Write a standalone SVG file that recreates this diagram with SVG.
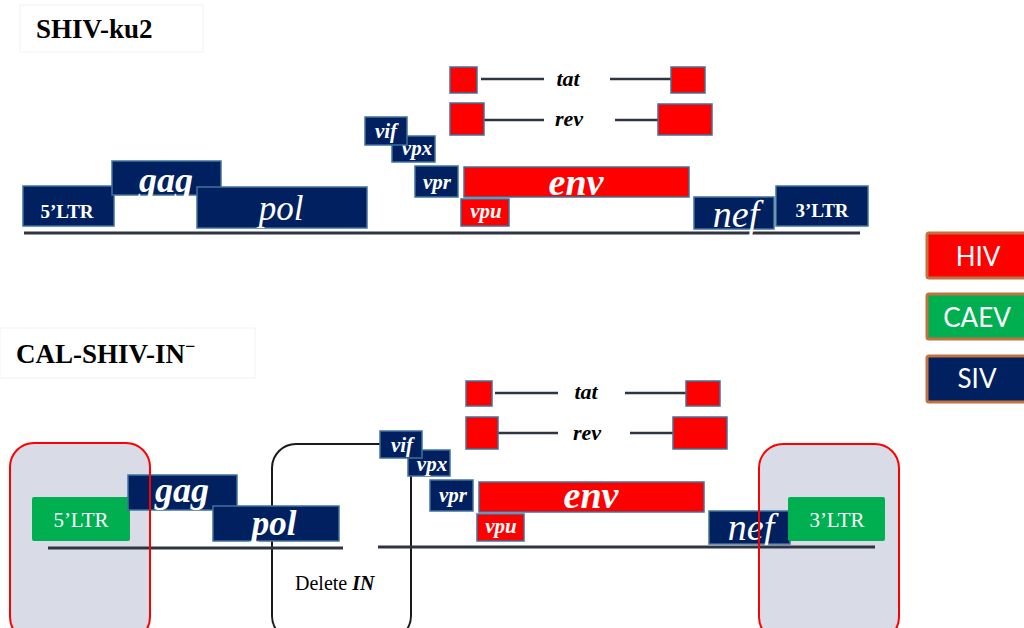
<svg xmlns="http://www.w3.org/2000/svg" width="1024" height="628" viewBox="0 0 1024 628">
<defs>
<style>
.siv{fill:#002060;stroke:#41719C;stroke-width:1.5}
.hiv{fill:#FF0000;stroke:#41719C;stroke-width:1.5}
.caev{fill:#00B050;stroke:none}
.ln{stroke:#2E3440;stroke-width:3;fill:none}
.thin{stroke:#2E3440;stroke-width:2.5;fill:none}
.lbl{fill:#FFFFFF;font-family:"Liberation Serif",serif;text-anchor:middle}
.sm{font-size:21px}
.bi{font-style:italic;font-weight:bold}
.it{font-style:italic}
.b{font-weight:bold}
.blk{fill:#000000;font-family:"Liberation Serif",serif}
.tr{font-size:22px;text-anchor:middle}
.title{fill:#000000;font-family:"Liberation Serif",serif;font-weight:bold;font-size:27px}
.tbox{fill:#FFFFFF;stroke:#F2F2F2;stroke-width:1}
.leg{stroke:#C0733E;stroke-width:3}
.legt{fill:#FFFFFF;font-family:Lato,"Open Sans",sans-serif;font-size:26px;text-anchor:middle}
.grey{fill:#D9DCE6;stroke:none}
.redb{fill:none;stroke:#FF0000;stroke-width:2}
</style>
</defs>
<rect width="1024" height="628" fill="#FFFFFF"/>

<!-- Top construct -->
<g id="title-top"><rect class="tbox" x="20" y="5" width="183" height="47"/><text class="title" x="36" y="38">SHIV-ku2</text></g>

<g id="connectors">
<line class="ln" x1="24" y1="233" x2="860" y2="233"/>
<line class="thin" x1="481" y1="79" x2="544" y2="79"/>
<line class="thin" x1="610" y1="79" x2="672" y2="79"/>
<line class="thin" x1="484" y1="120" x2="544" y2="120"/>
<line class="thin" x1="615" y1="120" x2="658" y2="120"/>
<line class="thin" x1="495" y1="393" x2="558" y2="393"/>
<line class="thin" x1="625" y1="393" x2="687" y2="393"/>
<line class="thin" x1="498" y1="433" x2="558" y2="433"/>
<line class="thin" x1="630" y1="433" x2="673" y2="433"/>
</g>

<g id="ltr5-top"><rect class="siv" x="23" y="186" width="91" height="40"/><text class="lbl b" x="67" y="218" font-size="19">5’LTR</text></g>
<g id="gag-top"><rect class="siv" x="112" y="161" width="109" height="34"/><text class="lbl bi" x="166" y="192" font-size="36">gag</text></g>
<g id="pol-top"><rect class="siv" x="197" y="187" width="170" height="41"/><text class="lbl it" x="281" y="220" font-size="35">pol</text></g>
<g id="vpx-top"><rect class="siv" x="392" y="136" width="43" height="26"/><text class="lbl bi sm" x="417" y="155">vpx</text></g>
<g id="vif-top"><rect class="siv" x="365" y="117" width="42" height="28"/><text class="lbl bi sm" x="386" y="138">vif</text></g>
<g id="vpr-top"><rect class="siv" x="415" y="166" width="43" height="31"/><text class="lbl bi sm" x="437" y="189">vpr</text></g>
<g id="env-top"><rect class="hiv" x="464" y="167" width="225" height="30"/><text class="lbl bi" x="576" y="195" font-size="38">env</text></g>
<g id="vpu-top"><rect class="hiv" x="461" y="199" width="48" height="27"/><text class="lbl bi sm" x="486" y="218">vpu</text></g>
<g id="nef-top"><rect class="siv" x="694" y="197" width="80" height="32"/><text class="lbl it" x="736" y="227" font-size="38">nef</text></g>
<g id="ltr3-top"><rect class="siv" x="776" y="186" width="92" height="40"/><text class="lbl b" x="822" y="217" font-size="19">3’LTR</text></g>
<g id="tat-top">
<rect class="hiv" x="450" y="67" width="27" height="26"/>
<rect fill="#FFFFFF" x="544" y="58" width="65" height="39"/>
<text class="blk bi tr" x="568" y="86">tat</text>
<rect class="hiv" x="671" y="67" width="34" height="26"/>
</g>
<g id="rev-top">
<rect class="hiv" x="450" y="103" width="34" height="32"/>
<rect fill="#FFFFFF" x="544" y="100" width="70" height="39"/>
<text class="blk bi tr" x="569" y="126">rev</text>
<rect class="hiv" x="658" y="104" width="54" height="31"/>
</g>

<!-- Legend -->
<g id="legend-hiv"><rect class="leg" x="927" y="233" width="104" height="45" rx="2" fill="#FF0000"/><text class="legt" x="978" y="266">HIV</text></g>
<g id="legend-caev"><rect class="leg" x="927" y="294" width="104" height="45" rx="2" fill="#00B050"/><text class="legt" x="977" y="327">CAEV</text></g>
<g id="legend-siv"><rect class="leg" x="927" y="356" width="104" height="46" rx="2" fill="#002060"/><text class="legt" x="977" y="388">SIV</text></g>

<!-- Bottom construct -->
<g id="title-bottom"><rect class="tbox" x="0" y="328" width="255" height="50"/><text class="title" x="16" y="363">CAL-SHIV-IN<tspan font-size="18" dy="-11">−</tspan></text></g>

<g id="region-5ltr"><rect class="grey" x="10" y="443" width="140" height="198" rx="24"/></g>
<g id="region-3ltr"><rect class="grey" x="759" y="444" width="140" height="197" rx="24"/></g>
<g id="delete-in">
<rect x="272" y="444" width="139" height="196" rx="24" fill="#FFFFFF" stroke="#1A1A1A" stroke-width="2"/>
<text class="blk" x="295" y="590" font-size="20">Delete <tspan class="bi">IN</tspan></text>
</g>

<g id="ltr5-bot"><rect class="caev" x="32" y="497" width="98" height="44" rx="2"/><text class="lbl" x="81" y="527" font-size="21">5’LTR</text></g>
<g id="gag-bot"><rect class="siv" x="128" y="475" width="109" height="35"/><text class="lbl bi" x="182" y="502" font-size="36">gag</text></g>
<g id="pol-bot"><rect class="siv" x="213" y="506" width="126" height="35"/><text class="lbl bi" x="274" y="535" font-size="35">pol</text></g>
<g id="vpx-bot"><rect class="siv" x="408" y="450" width="42" height="26"/><text class="lbl bi sm" x="432" y="471">vpx</text></g>
<g id="vif-bot"><rect class="siv" x="380" y="431" width="42" height="27"/><text class="lbl bi sm" x="402" y="452">vif</text></g>
<g id="vpr-bot"><rect class="siv" x="430" y="480" width="43" height="31"/><text class="lbl bi sm" x="453" y="502">vpr</text></g>
<g id="env-bot"><rect class="hiv" x="479" y="482" width="225" height="30"/><text class="lbl bi" x="591" y="508" font-size="38">env</text></g>
<g id="vpu-bot"><rect class="hiv" x="477" y="514" width="47" height="27"/><text class="lbl bi sm" x="501" y="533">vpu</text></g>
<g id="nef-bot"><rect class="siv" x="709" y="511" width="81" height="33"/><text class="lbl it" x="751" y="540" font-size="38">nef</text></g>
<g id="ltr3-bot"><rect class="caev" x="788" y="497" width="97" height="44" rx="2"/><text class="lbl" x="837" y="527" font-size="21">3’LTR</text></g>
<g id="tat-bot">
<rect class="hiv" x="466" y="381" width="26" height="25"/>
<rect fill="#FFFFFF" x="559" y="372" width="65" height="40"/>
<text class="blk bi tr" x="586" y="399">tat</text>
<rect class="hiv" x="686" y="381" width="34" height="25"/>
</g>
<g id="rev-bot">
<rect class="hiv" x="466" y="417" width="32" height="32"/>
<rect fill="#FFFFFF" x="559" y="413" width="70" height="40"/>
<text class="blk bi tr" x="587" y="440">rev</text>
<rect class="hiv" x="673" y="417" width="54" height="32"/>
</g>

<g id="genome-lines-bottom">
<line class="ln" x1="48" y1="548" x2="343" y2="548"/>
<line class="ln" x1="378" y1="547" x2="875" y2="547"/>
</g>
<g id="region-borders">
<rect class="redb" x="10" y="443" width="140" height="198" rx="24"/>
<rect class="redb" x="759" y="444" width="140" height="197" rx="24"/>
</g>
</svg>
